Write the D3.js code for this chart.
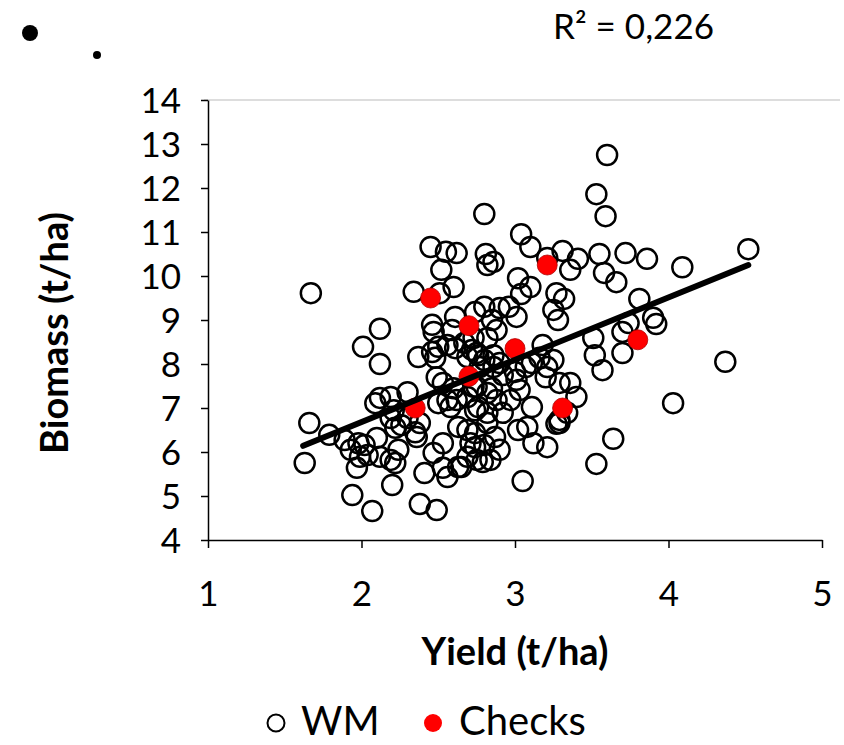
<!DOCTYPE html>
<html>
<head>
<meta charset="utf-8">
<script src="https://cdn.jsdelivr.net/npm/d3@7"></script>
<style>
  body { margin: 0; background: #fff; }
  svg text { font-family: Lato, "Open Sans", sans-serif; fill: #000; }
  .tick text { font-size: 35px; }
  .axis path, .axis line { stroke: #000; stroke-width: 1.5; }
  .axistitle { font-size: 38px; font-weight: bold; }
  .wm { fill: none; stroke: #000; stroke-width: 2.5; }
  .check { fill: #ff0000; stroke: #b00000; stroke-width: 0.8; }
  .trend { stroke: #000; stroke-width: 6; stroke-linecap: round; }
</style>
</head>
<body>
<svg id="chart" width="844" height="745"></svg>
<script>
// WM lines: [yield, biomass]
const wmPoints = [
  [3.60,12.75],[3.53,11.86],[3.59,11.36],[2.80,11.41],[2.45,10.66],[2.55,10.55],[2.62,10.52],
  [2.52,10.14],[2.34,9.64],[2.51,9.61],[2.60,9.75],[2.81,10.50],[2.86,10.32],[2.82,10.25],
  [3.04,10.95],[3.10,10.66],[3.21,10.41],[3.31,10.57],[3.41,10.39],[3.36,10.14],[3.55,10.50],
  [3.58,10.07],[3.66,9.86],[3.72,10.52],[3.86,10.39],[3.81,9.48],[3.02,9.95],[3.10,9.75],
  [3.04,9.59],[3.27,9.61],[3.32,9.48],[2.80,9.30],[2.90,9.27],[2.96,9.30],[3.25,9.23],
  [4.09,10.20],[4.52,10.61],[3.90,9.05],[3.92,8.91],[1.67,9.61],
  [2.74,9.18],[3.01,9.07],[2.85,9.00],[2.88,8.77],[2.82,8.59],[2.73,8.59],[2.67,8.48],
  [2.72,8.32],[2.76,8.20],[2.80,8.09],[2.86,8.20],[2.90,8.02],[2.86,7.93],[2.77,7.93],
  [2.92,7.75],[3.00,7.82],[3.07,7.93],[3.11,8.02],[3.18,8.43],[3.16,8.14],[3.21,7.93],
  [3.20,7.70],[3.25,8.09],[3.29,7.57],[3.36,7.57],[3.40,7.25],[3.34,6.89],[3.11,7.02],
  [3.01,7.64],[3.03,7.41],[2.97,7.18],[2.88,7.18],[2.82,7.34],[2.75,7.48],[2.85,7.45],
  [2.92,6.89],[2.82,6.89],[2.76,7.02],[3.28,9.00],[3.51,8.59],[3.52,8.20],[3.57,7.86],
  [3.70,8.25],[3.70,8.73],[3.74,8.93],[3.29,6.73],
  [2.12,8.80],[2.01,8.39],[2.12,8.00],[2.61,9.07],[2.46,8.89],[2.47,8.73],[2.59,8.77],
  [2.37,8.16],[2.46,8.27],[2.50,8.39],[2.48,8.14],[2.56,8.43],[2.61,8.36],[2.69,8.16],
  [2.75,8.25],[2.49,7.70],[2.53,7.57],[2.60,7.45],[2.56,7.18],[2.50,7.11],[2.58,7.02],
  [2.62,7.18],[2.69,7.25],[2.73,7.48],[2.74,6.95],[2.12,7.23],[2.09,7.11],[2.19,7.25],
  [2.30,7.36],[2.21,6.95],[2.30,6.77],[2.19,6.77],[1.66,6.66],[1.79,6.39],[2.38,6.66],
  [1.89,6.27],[1.93,6.05],[1.98,6.20],[2.02,6.16],[2.10,6.32],[2.04,5.93],[1.99,5.89],
  [1.97,5.64],[2.12,5.89],[2.19,5.82],[2.22,5.75],[2.24,6.05],[2.22,6.55],[2.26,6.61],
  [2.35,6.45],[2.36,6.34],[2.20,5.25],[1.94,5.02],[2.07,4.66],[2.38,4.82],[2.49,4.68],
  [2.41,5.52],[2.47,5.98],[2.53,6.20],[2.53,5.64],[2.56,5.43],[2.63,5.66],[2.69,5.89],
  [2.63,6.57],[2.71,6.20],[2.75,5.82],[1.63,5.75],
  [3.64,6.30],[3.53,5.73],[3.05,5.34],[3.21,6.11],[3.12,6.20],[3.02,6.50],[3.08,6.57],
  [3.27,6.64],[3.29,6.66],[2.90,6.05],[2.84,5.82],[2.79,5.77],[2.74,6.11],[2.80,6.16],
  [2.87,6.34],[2.69,6.50],[2.74,6.43],[2.82,6.66],[2.65,5.66],
  [4.37,8.05],[4.03,7.11]
];
const checkPoints = [
  [2.45,9.50],[2.70,8.87],[3.00,8.35],[3.21,10.25],[2.70,7.72],[2.35,7.00],[3.31,7.00],[3.80,8.55]
];
// linear trend of the reference (endpoints of the drawn line)
const trendX = [1.62, 4.52];
const trendSlope = 1.417;
const trendIntercept = 3.845;
const xTicks = [1, 2, 3, 4, 5];
const yTicks = [4, 5, 6, 7, 8, 9, 10, 11, 12, 13, 14];
const r2Label = "R² = 0,226";

const svg = d3.select("#chart");
const x = d3.scaleLinear().domain([1, 5]).range([208, 822]);
const y = d3.scaleLinear().domain([4, 14]).range([540, 100]);

// faint top border of the plot area
svg.append("line").attr("x1", 204).attr("x2", 840).attr("y1", 100).attr("y2", 100)
  .attr("stroke", "#bbb").attr("stroke-width", 1);

const xAxis = svg.append("g").attr("class", "axis").attr("transform", "translate(0,540)")
  .call(d3.axisBottom(x).tickValues(xTicks).tickSize(8).tickSizeOuter(0).tickFormat(d3.format("d")));
xAxis.selectAll(".tick text").attr("y", 66).attr("dy", 0);

const yAxis = svg.append("g").attr("class", "axis").attr("transform", "translate(208,0)")
  .call(d3.axisLeft(y).tickValues(yTicks).tickSize(7).tickSizeOuter(0).tickFormat(d3.format("d")));
yAxis.selectAll(".tick text").attr("x", -27).attr("dy", "0.36em");

svg.append("g").selectAll("circle").data(wmPoints).join("circle")
  .attr("class", "wm").attr("cx", d => x(d[0])).attr("cy", d => y(d[1])).attr("r", 10);

svg.append("g").selectAll("circle").data(checkPoints).join("circle")
  .attr("class", "check").attr("cx", d => x(d[0])).attr("cy", d => y(d[1])).attr("r", 10);

svg.append("line").attr("class", "trend")
  .attr("x1", x(trendX[0])).attr("y1", y(trendIntercept + trendSlope * trendX[0]))
  .attr("x2", x(trendX[1])).attr("y2", y(trendIntercept + trendSlope * trendX[1]));

svg.append("text").attr("class", "axistitle").attr("x", 515).attr("y", 665)
  .attr("text-anchor", "middle").text("Yield (t/ha)");
svg.append("text").attr("class", "axistitle").attr("text-anchor", "middle")
  .attr("transform", "translate(68,333) rotate(-90)").text("Biomass (t/ha)");

svg.append("text").attr("x", 553).attr("y", 39).style("font-size", "35px").text(r2Label);

// stray bullets at top-left
svg.append("circle").attr("cx", 30).attr("cy", 33).attr("r", 8).attr("fill", "#000");
svg.append("circle").attr("cx", 97).attr("cy", 55).attr("r", 4).attr("fill", "#000");

// legend
const legend = svg.append("g");
legend.append("circle").attr("cx", 276).attr("cy", 723).attr("r", 8.5)
  .attr("fill", "none").attr("stroke", "#000").attr("stroke-width", 2);
legend.append("text").attr("x", 301).attr("y", 735).style("font-size", "40px").text("WM");
legend.append("circle").attr("cx", 433).attr("cy", 723).attr("r", 9).attr("fill", "#ff0000");
legend.append("text").attr("x", 459).attr("y", 735).style("font-size", "40px").text("Checks");
</script>
</body>
</html>
